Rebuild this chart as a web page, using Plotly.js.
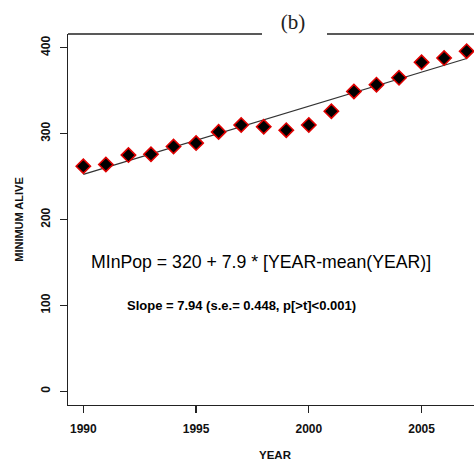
<!DOCTYPE html>
<html><head><meta charset="utf-8">
<script src="https://cdn.plot.ly/plotly-3.0.1.min.js"></script>
<style>html,body{margin:0;padding:0;overflow:hidden;background:#fff;width:474px;height:465px}</style>
</head><body><div id="chart"></div>
<script>
const years = [1990,1991,1992,1993,1994,1995,1996,1997,1998,1999,2000,2001,2002,2003,2004,2005,2006,2007];
const minAlive = [262,264,275,276,285,289,302,310,308,304,310,326,349,357,365,383,388,396];
const fitIntercept = 320;
const fitSlope = 7.94;
const xTicks = [1990,1995,2000,2005];
const yTicks = [0,100,200,300,400];
const eqText = 'MInPop = 320 + 7.9 * [YEAR-mean(YEAR)]';
const slopeText = 'Slope = 7.94 (s.e.= 0.448, p[&gt;t]&lt;0.001)';

const meanYear = years.reduce((a,b)=>a+b,0)/years.length;
const lineX = [years[0], years[years.length-1]];
const lineY = lineX.map(x => fitIntercept + fitSlope*(x-meanYear));

const sans = 'Liberation Sans, Arial, sans-serif';
const traces = [
  {x: lineX, y: lineY, mode:'lines', line:{color:'#333', width:1.2}, hoverinfo:'skip'},
  {x: years, y: minAlive, mode:'markers',
   marker:{symbol:'diamond', size:11, color:'#000', line:{color:'#e00000', width:1.6}}}
];
const layout = {
  width: 490, height: 465,
  margin:{l:68, r:8, t:34, b:60},
  showlegend:false,
  paper_bgcolor:'#fff', plot_bgcolor:'#fff',
  title:{text:'(b)', x:0.5435, xref:'paper', xanchor:'center', y:1-22/465, yref:'container', yanchor:'middle',
    font:{family:'Liberation Serif, Times New Roman, serif', size:21, color:'#222'}},
  xaxis:{range:[1989.32, 2007.68], tickvals:xTicks, ticks:'outside', ticklen:7, tickwidth:1.2, tickcolor:'#222',
    showgrid:false, zeroline:false, showline:true, linecolor:'#222', linewidth:1.3,
    ticklabelstandoff:5,
    tickfont:{family:sans, size:12, weight:'bold', color:'#111'},
    title:{text:'YEAR', standoff:16, font:{family:sans, size:11.5, weight:'bold', color:'#111'}}},
  yaxis:{range:[-16, 416], tickvals:yTicks, ticks:'outside', ticklen:7, tickwidth:1.2, tickcolor:'#222',
    showgrid:false, zeroline:false, showline:true, linecolor:'#222', linewidth:1.3,
    tickangle:-90, ticklabelstandoff:5,
    tickfont:{family:sans, size:12, weight:'bold', color:'#111'},
    title:{text:'MINIMUM ALIVE', standoff:13, font:{family:sans, size:11, weight:'bold', color:'#111'}}},
  shapes:[
    {type:'line', xref:'paper', yref:'paper', x0:0, x1:0.4686, y0:1, y1:1, line:{color:'#222', width:1.3}},
    {type:'line', xref:'paper', yref:'paper', x0:0.6256, x1:1, y0:1, y1:1, line:{color:'#222', width:1.3}}
  ],
  annotations:[
    {x:1997.9, y:151, xref:'x', yref:'y', text:eqText, showarrow:false,
     font:{family:sans, size:17.7, color:'#000'}},
    {x:1997, y:100, xref:'x', yref:'y', text:slopeText, showarrow:false,
     font:{family:sans, size:13, weight:'bold', color:'#000'}}
  ]
};
Plotly.newPlot('chart', traces, layout, {staticPlot:true, displayModeBar:false});
</script></body></html>
